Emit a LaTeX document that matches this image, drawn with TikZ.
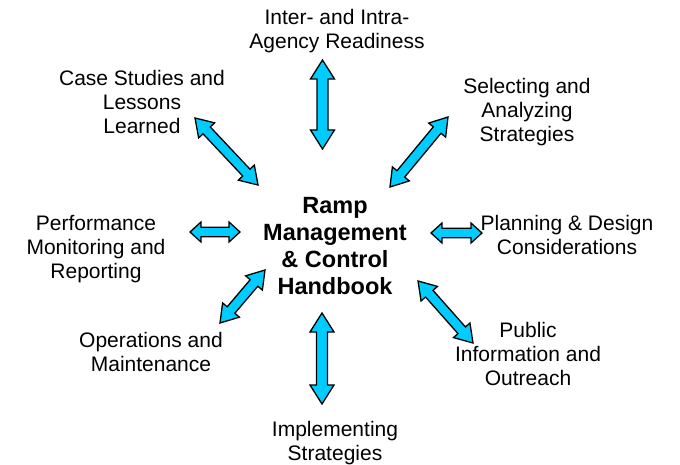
\documentclass[tikz,border=0pt]{standalone}
\usepackage{fontspec}
\setmainfont{Liberation Sans}
\usetikzlibrary{calc}
\definecolor{arrowblue}{HTML}{00CCFF}
\newcommand{\arrhead}{19pt}
\newcommand{\arrwing}{12pt}
\newcommand{\arrshaft}{5.5pt}
% double block arrow between two named coordinates
\newcommand{\blockarrow}[2]{%
  \draw[blockarrow] (#1)
    -- ($(#1)!\arrhead!(#2)!\arrwing!90:(#2)$) -- ($(#1)!\arrhead!(#2)!\arrshaft!90:(#2)$)
    -- ($(#2)!\arrhead!(#1)!\arrshaft!-90:(#1)$) -- ($(#2)!\arrhead!(#1)!\arrwing!-90:(#1)$)
    -- (#2)
    -- ($(#2)!\arrhead!(#1)!\arrwing!90:(#1)$) -- ($(#2)!\arrhead!(#1)!\arrshaft!90:(#1)$)
    -- ($(#1)!\arrhead!(#2)!\arrshaft!-90:(#2)$) -- ($(#1)!\arrhead!(#2)!\arrwing!-90:(#2)$)
    -- cycle;}
\begin{document}
\begin{tikzpicture}[x=1pt,y=-1pt,font=\fontsize{21}{24}\selectfont,
  blockarrow/.style={fill=arrowblue,draw=black,line width=1.3pt,line join=miter},
  label/.style={align=center,inner sep=0pt}]
  \useasboundingbox (0,0) rectangle (680,465);
  \node[label,font=\fontsize{23.5}{27.3}\selectfont\bfseries] (hub) at (335,246) {Ramp\\Management\\\& Control\\Handbook};
  \node[label] (inter) at (337,31) {Inter- and Intra-\\Agency Readiness};
  \node[label] (cases) at (142,102) {Case Studies and\\Lessons\\Learned};
  \node[label] (select) at (527,112) {Selecting and\\Analyzing\\Strategies};
  \node[label] (perf) at (96,249) {Performance\\Monitoring and\\Reporting};
  \node[label] (plan) at (567,235) {Planning \& Design\\Considerations};
  \node[label] (public) at (528,354) {Public\\Information and\\Outreach};
  \node[label] (oper) at (151,352) {Operations and\\Maintenance};
  \node[label] (impl) at (335,443) {Implementing\\Strategies};
  % arrow ends
  \coordinate (n1) at (322.5,60);  \coordinate (n2) at (322.5,149);
  \coordinate (s1) at (322,313);   \coordinate (s2) at (322,404);
  \coordinate (nw1) at (195,118);  \coordinate (nw2) at (258,185);
  \coordinate (ne1) at (448,117);  \coordinate (ne2) at (390,187);
  \coordinate (sw1) at (265,270);  \coordinate (sw2) at (220,323);
  \coordinate (se1) at (418,281);  \coordinate (se2) at (473,343);
  \coordinate (w1) at (190,232);   \coordinate (w2) at (240,232);
  \coordinate (e1) at (431,233);   \coordinate (e2) at (482,233);
  \blockarrow{n1}{n2}
  \blockarrow{s1}{s2}
  \renewcommand{\arrhead}{17pt}\renewcommand{\arrwing}{11pt}\renewcommand{\arrshaft}{5pt}
  \blockarrow{nw1}{nw2}
  \blockarrow{ne1}{ne2}
  \blockarrow{sw1}{sw2}
  \blockarrow{se1}{se2}
  \renewcommand{\arrhead}{11pt}\renewcommand{\arrwing}{10pt}\renewcommand{\arrshaft}{4.7pt}
  \blockarrow{w1}{w2}
  \blockarrow{e1}{e2}
\end{tikzpicture}
\end{document}
